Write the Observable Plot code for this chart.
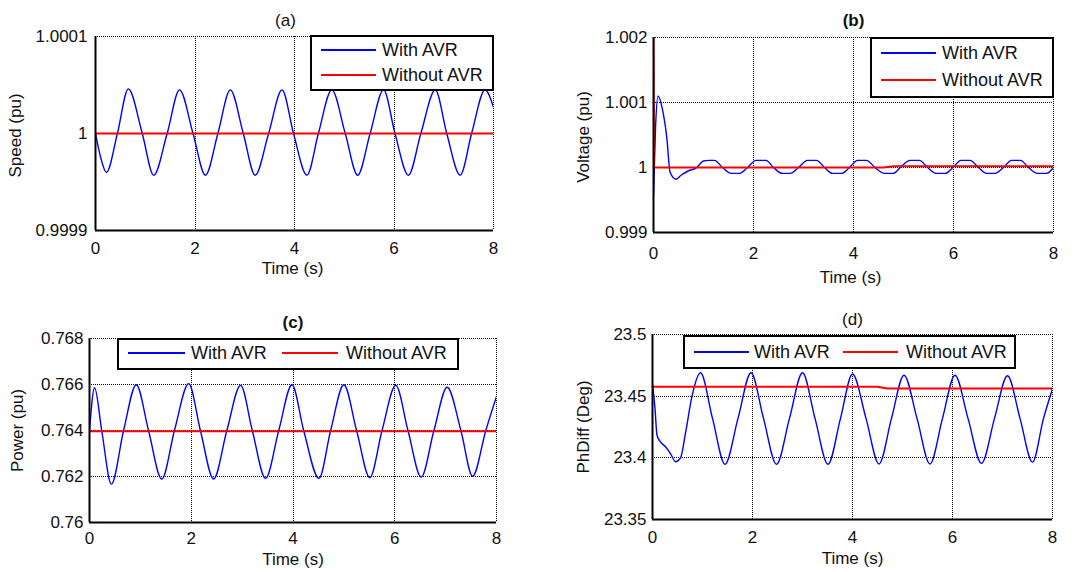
<!DOCTYPE html>
<html><head><meta charset="utf-8">
<script src="https://cdn.jsdelivr.net/npm/d3@7"></script>
<script src="https://cdn.jsdelivr.net/npm/@observablehq/plot@0.6"></script>
<style>
html,body{margin:0;padding:0;background:#fff;}
#root{position:relative;width:1081px;height:572px;overflow:hidden;font-family:"Liberation Sans",Arial,sans-serif;}
.panel{position:absolute;}
.legend{position:absolute;background:#fff;border:2px solid #000;box-sizing:border-box;}
.legend .ln{position:absolute;height:0;border-top:2px solid;}
.legend .tx{position:absolute;font-size:18px;line-height:1;color:#111;transform:translateY(-50%);white-space:nowrap;}
</style></head><body><div id="root"></div>
<script>
// ---------- data ----------
const seriesNames = ["With AVR", "Without AVR"];
const seriesColors = ["#0000ff", "#ff0000"];
const timeTicks = [0, 2, 4, 6, 8];
const timeLabel = "Time (s)";

// (a) Speed
const speedTicks = [0.9999, 1, 1.0001];
const speedTickLabels = ["0.9999", "1", "1.0001"];
const speedWithAvr = [[0,1.0],[0.1,0.999976],[0.22,0.99996],[0.44,1.0],[0.66,1.000046],[0.94,1.0],[1.17,0.999957],[1.44,1.0],[1.69,1.000045],[1.96,1.0],[2.21,0.999957],[2.46,1.0],[2.71,1.000045],[2.97,1.0],[3.21,0.999957],[3.48,1.0],[3.75,1.000045],[3.98,1.0],[4.25,0.999957],[4.48,1.0],[4.75,1.000045],[5.02,1.0],[5.27,0.999957],[5.52,1.0],[5.79,1.000045],[6.02,1.0],[6.29,0.999957],[6.54,1.0],[6.83,1.000045],[7.06,1.0],[7.33,0.999957],[7.56,1.0],[7.83,1.000045],[8.0,1.000027]];
const speedWithoutAvr = [[0,1.0],[8,1.0]];

// (b) Voltage
const voltTicks = [0.999, 1, 1.001, 1.002];
const voltTickLabels = ["0.999", "1", "1.001", "1.002"];
const voltWithAvr = [[0,0.99957],[0.04,1.0006],[0.09,1.0011],[0.18,1.00089],[0.27,1.00043],[0.33,0.99993],[0.45,0.99982],[0.55,0.99988],[0.7,0.99995],[0.85,0.99999],[1.0,1.0001],[1.1,1.00011],[1.22,1.00011],[1.38,1.0],[1.55,0.99991],[1.72,0.99991],[1.88,1.0],[2.05,1.00011],[2.25,1.00011],[2.4,1.0],[2.57,0.99991],[2.74,0.99991],[2.9,1.0],[3.08,1.00011],[3.26,1.00011],[3.42,1.0],[3.58,0.99991],[3.76,0.99991],[3.92,1.0],[4.08,1.00011],[4.26,1.00011],[4.43,1.0],[4.62,0.99991],[4.8,0.99991],[4.96,1.00002],[5.13,1.00011],[5.32,1.00011],[5.48,1.0],[5.65,0.99991],[5.83,0.99991],[5.99,1.0],[6.15,1.00011],[6.33,1.00011],[6.5,1.0],[6.66,0.99991],[6.83,0.99991],[7.0,1.0],[7.16,1.00011],[7.34,1.00011],[7.5,1.0],[7.68,0.99991],[7.86,0.99991],[8.0,1.0]];
const voltWithoutAvr = [[0,1.002],[0.01,1.0],[4.6,1.0],[4.8,1.00002],[8,1.00002]];

// (c) Power
const powerTicks = [0.76, 0.762, 0.764, 0.766, 0.768];
const powerTickLabels = ["0.76", "0.762", "0.764", "0.766", "0.768"];
const powerWithAvr = [[0,0.764],[0.1,0.76586],[0.24,0.764],[0.43,0.76167],[0.67,0.764],[0.92,0.76599],[1.16,0.764],[1.42,0.76189],[1.67,0.764],[1.95,0.76604],[2.18,0.764],[2.44,0.76189],[2.7,0.764],[2.97,0.76596],[3.2,0.764],[3.46,0.76192],[3.72,0.764],[3.98,0.76599],[4.21,0.764],[4.51,0.76192],[4.74,0.764],[5.0,0.76599],[5.25,0.764],[5.51,0.76195],[5.75,0.764],[6.02,0.76596],[6.26,0.764],[6.52,0.76198],[6.77,0.764],[7.03,0.76588],[7.3,0.764],[7.53,0.76201],[7.79,0.764],[8.0,0.76548]];
const powerWithoutAvr = [[0,0.76397],[8,0.76397]];

// (d) Phase difference
const phTicks = [23.35, 23.4, 23.45, 23.5];
const phTickLabels = ["23.35", "23.4", "23.45", "23.5"];
const phWithAvr = [[0,23.4603],[0.05,23.44],[0.09,23.4183],[0.16,23.4129],[0.26,23.409],[0.36,23.4035],[0.46,23.3968],[0.56,23.40],[0.66,23.42],[0.79,23.45],[0.96,23.469],[1.2,23.432],[1.45,23.3948],[1.71,23.432],[1.97,23.469],[2.22,23.432],[2.48,23.3948],[2.74,23.432],[3.0,23.469],[3.25,23.432],[3.51,23.3948],[3.76,23.432],[4.0,23.468],[4.27,23.432],[4.53,23.395],[4.78,23.432],[5.03,23.467],[5.29,23.432],[5.55,23.395],[5.8,23.432],[6.05,23.467],[6.31,23.432],[6.58,23.3955],[6.84,23.432],[7.1,23.4665],[7.35,23.432],[7.6,23.3965],[7.82,23.432],[8.0,23.456]];
const phWithoutAvr = [[0,23.4576],[4.5,23.4576],[4.7,23.4562],[8,23.4562]];

// ---------- drawing ----------
const root = document.getElementById("root");
const toRows = arr => arr.map(([t, v]) => ({t, v}));

function panel(cfg) {
  const fmt = d => {
    const i = cfg.yTicks.findIndex(t => Math.abs(t - d) < 1e-9);
    return i >= 0 ? cfg.yTickLabels[i] : "";
  };
  const grid = {stroke: "#000", strokeOpacity: 1, strokeDasharray: "1,1", strokeWidth: 1};
  const txt = {fontSize: 17, textAnchor: "middle", lineAnchor: "middle"};
  const chart = Plot.plot({
    width: cfg.width, height: cfg.height,
    marginLeft: cfg.m[0], marginRight: cfg.m[1], marginTop: cfg.m[2], marginBottom: cfg.m[3],
    x: {domain: [0, 8], label: null},
    y: {domain: [cfg.yTicks[0], cfg.yTicks[cfg.yTicks.length - 1]], label: null},
    style: {fontFamily: "'Liberation Sans', Arial, sans-serif", fontSize: "17px", color: "#111", background: "transparent", overflow: "visible"},
    marks: [
      Plot.gridX(timeTicks, grid),
      Plot.gridY(cfg.yTicks, grid),
      Plot.line(toRows(cfg.withAvr), {x: "t", y: "v", stroke: seriesColors[0], strokeWidth: 1.4, curve: "monotone-x", clip: true}),
      Plot.line(toRows(cfg.withoutAvr), {x: "t", y: "v", stroke: seriesColors[1], strokeWidth: 2, curve: "linear", clip: true}),
      Plot.ruleX([0], {stroke: "#000", strokeWidth: 2}),
      Plot.ruleY([cfg.yTicks[0]], {stroke: "#000", strokeWidth: 2}),
      Plot.axisX({ticks: timeTicks, tickSize: 0, tickPadding: cfg.xPad, label: null, fontSize: 17}),
      Plot.axisY({ticks: cfg.yTicks, tickSize: 0, tickPadding: cfg.yPad, tickFormat: fmt, label: null, fontSize: 17}),
      Plot.text([cfg.title], {...txt, frameAnchor: "top", dy: cfg.titleDy, dx: cfg.titleDx || 0, fontWeight: cfg.titleBold ? "bold" : "normal"}),
      Plot.text([cfg.yLabel], {...txt, frameAnchor: "left", rotate: -90, dx: cfg.yLabelDx, dy: cfg.yLabelDy || 0}),
      Plot.text([timeLabel], {...txt, frameAnchor: "bottom", dy: cfg.xLabelDy, dx: cfg.xLabelDx || 0})
    ]
  });
  d3.select(chart).selectAll("g[aria-label$='grid']").attr("shape-rendering", "crispEdges");
  chart.classList.add("panel");
  chart.style.left = cfg.left + "px";
  chart.style.top = cfg.top + "px";
  root.appendChild(chart);

  const L = cfg.legend;
  const box = document.createElement("div");
  box.className = "legend";
  Object.assign(box.style, {left: L.box[0] + "px", top: L.box[1] + "px", width: L.box[2] + "px", height: L.box[3] + "px"});
  L.items.forEach((it, i) => {
    const ln = document.createElement("div");
    ln.className = "ln";
    Object.assign(ln.style, {left: (it[0] - L.box[0] - 2) + "px", width: (it[1] - it[0]) + "px", top: (it[3] - L.box[1] - 3) + "px", borderTopColor: seriesColors[i]});
    const tx = document.createElement("div");
    tx.className = "tx";
    tx.textContent = seriesNames[i];
    Object.assign(tx.style, {left: (it[2] - L.box[0] - 2) + "px", top: (it[3] - L.box[1] - 2) + "px"});
    box.appendChild(ln); box.appendChild(tx);
  });
  root.appendChild(box);
}

panel({left: 0, top: 0, width: 540, height: 290, m: [95, 47, 36, 60],
  yTicks: speedTicks, yTickLabels: speedTickLabels, withAvr: speedWithAvr, withoutAvr: speedWithoutAvr,
  title: "(a)", titleBold: false, titleDy: -16, titleDx: -9, yLabel: "Speed (pu)", yLabelDx: -80, yLabelDy: 2, xLabelDy: 38, xLabelDx: -2, xPad: 11, yPad: 8,
  legend: {box: [310, 35, 184, 56], items: [[321, 376, 382, 50], [321, 376, 382, 75]]}});

panel({left: 540, top: 0, width: 541, height: 290, m: [113, 28, 37, 58],
  yTicks: voltTicks, yTickLabels: voltTickLabels, withAvr: voltWithAvr, withoutAvr: voltWithoutAvr,
  title: "(b)", titleBold: true, titleDy: -17, yLabel: "Voltage (pu)", yLabelDx: -70, yLabelDy: 2, xLabelDy: 45, xLabelDx: -3, xPad: 14, yPad: 6,
  legend: {box: [870, 37, 184, 61], items: [[881, 936, 942, 53], [881, 936, 942, 80]]}});

panel({left: 0, top: 290, width: 540, height: 282, m: [89, 44, 48, 50],
  yTicks: powerTicks, yTickLabels: powerTickLabels, withAvr: powerWithAvr, withoutAvr: powerWithoutAvr,
  title: "(c)", titleBold: true, titleDy: -16, yLabel: "Power (pu)", yLabelDx: -72, xLabelDy: 37, xPad: 9, yPad: 6,
  legend: {box: [117, 338, 342, 32], items: [[128, 185, 191, 353], [282, 338, 346, 353]]}});

panel({left: 540, top: 290, width: 541, height: 282, m: [112, 29, 44, 53],
  yTicks: phTicks, yTickLabels: phTickLabels, withAvr: phWithAvr, withoutAvr: phWithoutAvr,
  title: "(d)", titleBold: false, titleDy: -15, yLabel: "PhDiff (Deg)", yLabelDx: -69, xLabelDy: 39, xPad: 11, yPad: 6,
  legend: {box: [683, 335, 333, 34], items: [[694, 749, 754, 352], [843, 898, 906, 352]]}});
</script></body></html>
